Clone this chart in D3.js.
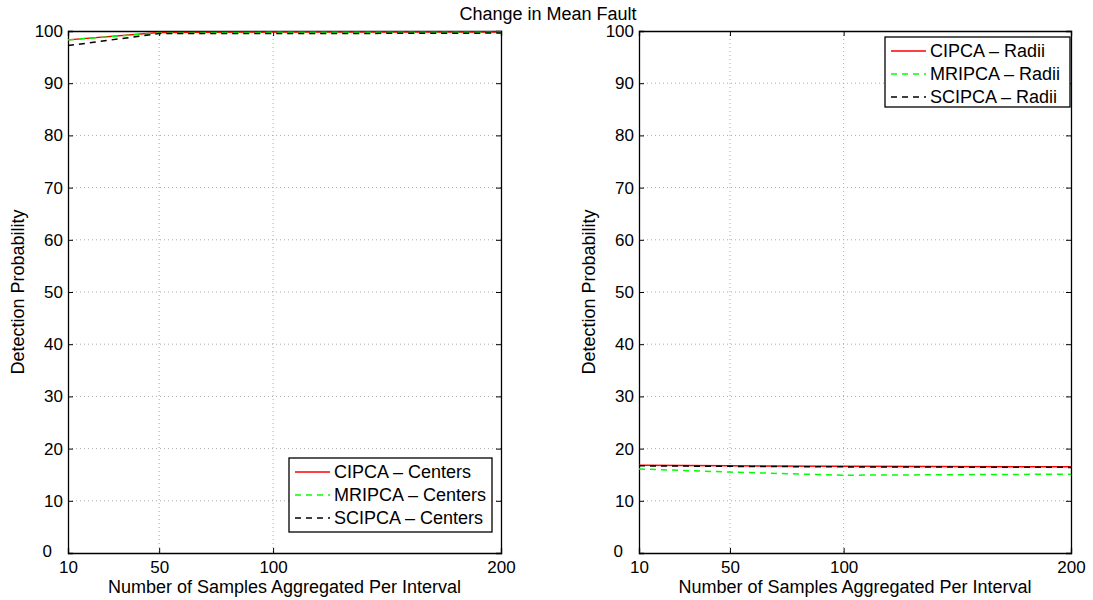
<!DOCTYPE html>
<html>
<head>
<meta charset="utf-8">
<script src="https://cdn.jsdelivr.net/npm/d3@7"></script>
<style>
  body { margin: 0; background: #fff; }
  text { font-family: "Liberation Sans", Arial, sans-serif; fill: #000; }
</style>
</head>
<body>
<div id="chart"></div>
<script>
// data
let samples = [10, 50, 100, 200];
let xTicks = [10, 50, 100, 200];
let yTicks = [0, 10, 20, 30, 40, 50, 60, 70, 80, 90, 100];

let cipcaCenters = [98.3, 99.7, 99.8, 99.8];
let mripcaCenters = [98.3, 99.6, 99.7, 99.7];
let scipcaCenters = [97.2, 99.5, 99.5, 99.6];

let cipcaRadii = [16.8, 16.7, 16.6, 16.5];
let mripcaRadii = [16.1, 15.5, 14.9, 15.1];
let scipcaRadii = [16.7, 16.6, 16.5, 16.4];

let W = 1093, H = 600;

var svg = d3.select("#chart").append("svg")
    .attr("width", W)
    .attr("height", H);

svg.append("text")
    .attr("x", 548)
    .attr("y", 20)
    .attr("text-anchor", "middle")
    .style("font-size", "18px")
    .text("Change in Mean Fault");

function drawPanel(left, right, series, legendBox) {
    let top = 31, bottom = 553;
    let x = d3.scaleLinear().domain([10, 200]).range([left, right]);
    let y = d3.scaleLinear().domain([0, 100]).range([bottom, top]);
    let g = svg.append("g");

    // grid
    g.selectAll(".hgrid").data(yTicks.slice(1, -1)).enter().append("line")
        .attr("x1", left).attr("x2", right)
        .attr("y1", d => y(d)).attr("y2", d => y(d))
        .attr("stroke", "#aaa").attr("stroke-width", 1)
        .attr("stroke-dasharray", "1,3");
    g.selectAll(".vgrid").data([50, 100]).enter().append("line")
        .attr("x1", d => x(d)).attr("x2", d => x(d))
        .attr("y1", top).attr("y2", bottom)
        .attr("stroke", "#aaa").attr("stroke-width", 1)
        .attr("stroke-dasharray", "1,3");

    // axes, ticks point inward
    let yAxis = d3.axisLeft(y).tickValues(yTicks).tickSize(-5).tickPadding(5);
    let yAxisR = d3.axisRight(y).tickValues(yTicks).tickSize(-5).tickFormat("");
    let xAxis = d3.axisBottom(x).tickValues(xTicks).tickSize(-5).tickPadding(8);
    let xAxisT = d3.axisTop(x).tickValues(xTicks).tickSize(-5).tickFormat("");

    let ax = [
        g.append("g").attr("transform", `translate(${left},0)`).call(yAxis),
        g.append("g").attr("transform", `translate(${right},0)`).call(yAxisR),
        g.append("g").attr("transform", `translate(0,${bottom})`).call(xAxis),
        g.append("g").attr("transform", `translate(0,${top})`).call(xAxisT)
    ];
    ax.forEach(a => {
        a.select(".domain").attr("stroke", "#000").attr("stroke-width", 1.3);
        a.selectAll("line").attr("stroke", "#000");
        a.selectAll("text").style("font-size", "17px")
            .style("font-family", "Liberation Sans, Arial, sans-serif");
    });
    // the 0 label sits left of the 10 label, as MATLAB does it
    ax[0].selectAll(".tick text").filter(d => d === 0)
        .attr("dx", -11).attr("dy", "0.2em");

    g.append("text")
        .attr("transform", `translate(${left - 44},${(top + bottom) / 2}) rotate(-90)`)
        .attr("text-anchor", "middle")
        .style("font-size", "18px")
        .text("Detection Probability");
    g.append("text")
        .attr("x", (left + right) / 2)
        .attr("y", 593)
        .attr("text-anchor", "middle")
        .style("font-size", "18px")
        .text("Number of Samples Aggregated Per Interval");

    let line = d3.line().x((d, i) => x(samples[i])).y(d => y(d));
    series.forEach(s => {
        g.append("path")
            .datum(s.values)
            .attr("d", line)
            .attr("fill", "none")
            .attr("stroke", s.color)
            .attr("stroke-width", 1.5)
            .attr("stroke-dasharray", s.dash);
    });

    // legend
    let lg = g.append("g");
    lg.append("rect")
        .attr("x", legendBox.x).attr("y", legendBox.y)
        .attr("width", legendBox.w).attr("height", legendBox.h)
        .attr("fill", "#fff").attr("stroke", "#000").attr("stroke-width", 1.3);
    series.forEach((s, i) => {
        let ry = legendBox.y + 14 + i * 23;
        lg.append("line")
            .attr("x1", legendBox.x + 6).attr("x2", legendBox.x + 41)
            .attr("y1", ry).attr("y2", ry)
            .attr("stroke", s.color).attr("stroke-width", 1.5)
            .attr("stroke-dasharray", s.dash);
        lg.append("text")
            .attr("x", legendBox.x + 45)
            .attr("y", ry + 6)
            .style("font-size", "18px")
            .text(s.name);
    });
}

drawPanel(68, 501, [
    { name: "CIPCA \u2013 Centers", values: cipcaCenters, color: "#ff0000", dash: null },
    { name: "MRIPCA \u2013 Centers", values: mripcaCenters, color: "#00ff00", dash: "6,5" },
    { name: "SCIPCA \u2013 Centers", values: scipcaCenters, color: "#000000", dash: "6,5" }
], { x: 289, y: 458, w: 203, h: 74 });

drawPanel(639, 1071, [
    { name: "CIPCA \u2013 Radii", values: cipcaRadii, color: "#ff0000", dash: null },
    { name: "MRIPCA \u2013 Radii", values: mripcaRadii, color: "#00ff00", dash: "6,5" },
    { name: "SCIPCA \u2013 Radii", values: scipcaRadii, color: "#000000", dash: "6,5" }
], { x: 885, y: 37, w: 185, h: 70 });
</script>
</body>
</html>
